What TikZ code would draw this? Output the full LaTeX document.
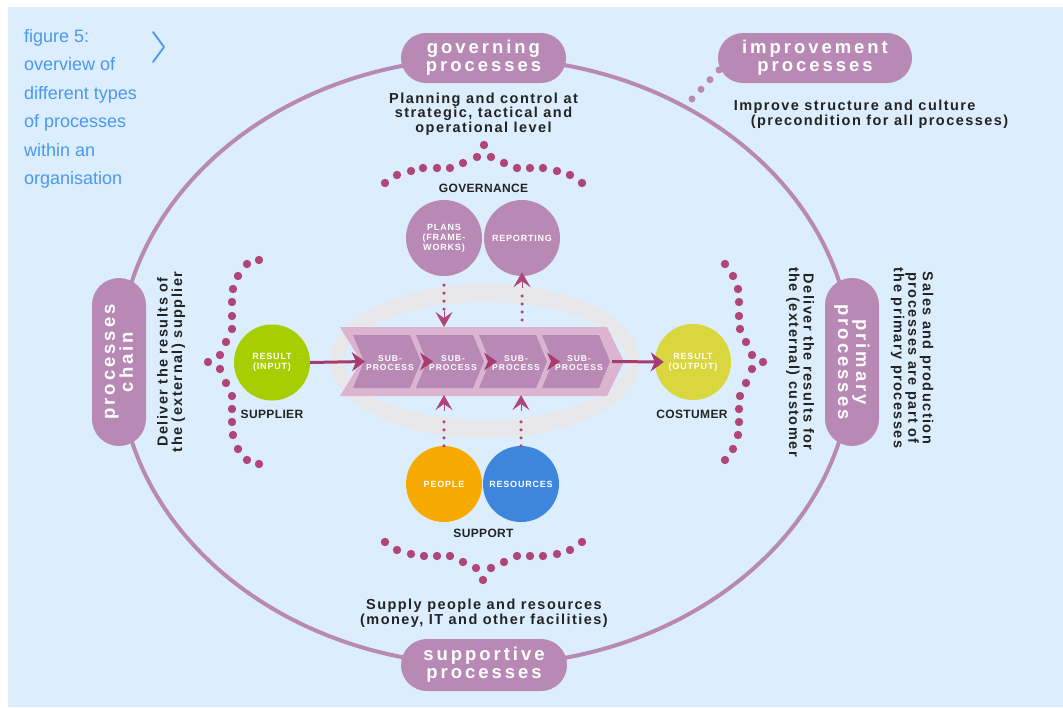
\documentclass[tikz,border=0pt]{standalone}
\usepackage{fontspec}
\setmainfont{Liberation Sans}
\newfontfamily\pillfont[LetterSpace=16]{Liberation Sans Bold}
\newfontfamily\bodyfont[LetterSpace=10]{Liberation Sans Bold}
\newfontfamily\smallfont[LetterSpace=9]{Liberation Sans Bold}
\newfontfamily\subfont[LetterSpace=12]{Liberation Sans Bold}
\newfontfamily\labelfont[LetterSpace=3]{Liberation Sans Bold}
\newfontfamily\capfont{Liberation Sans}
\usetikzlibrary{arrows.meta}
\definecolor{bgc}{RGB}{220,238,253}
\definecolor{pcol}{RGB}{184,137,180}
\definecolor{lpink}{RGB}{219,180,208}
\definecolor{ringc}{RGB}{232,232,234}
\definecolor{dcol}{RGB}{176,70,120}
\definecolor{acol}{RGB}{168,60,112}
\definecolor{gcol}{RGB}{166,206,0}
\definecolor{ycol}{RGB}{217,214,62}
\definecolor{ocol}{RGB}{246,170,0}
\definecolor{bcol}{RGB}{62,133,222}
\definecolor{capc}{RGB}{74,152,236}
\definecolor{tdark}{RGB}{35,35,35}
\tikzset{
 pill/.style={fill=pcol, text=white, align=center, inner sep=0pt, font=\pillfont\fontsize{18.5}{18}\selectfont},
 blob/.style={circle, fill=#1, minimum size=76pt, inner sep=0pt, text=white, align=center, font=\smallfont\fontsize{9}{10}\selectfont},
 body/.style={text=tdark, align=center, inner sep=0pt, font=\bodyfont\fontsize{14.5}{14.5}\selectfont},
 lbl/.style={text=tdark, inner sep=0pt, font=\labelfont\fontsize{12}{12}\selectfont},
 subtxt/.style={text=white, align=center, inner sep=0pt, font=\subfont\fontsize{8.5}{8.5}\selectfont},
 flow/.style={draw=acol, line width=3pt, -{Stealth[length=13pt,width=19pt,inset=4pt]}},
 dotline/.style={draw=dcol, line width=3.5pt, line cap=round, dash pattern=on 0pt off 8pt},
 vhead/.style={draw=dcol, fill=dcol, line width=1pt, -{Stealth[length=15pt,width=17pt,inset=6pt]}},
 bdot/.style={fill=dcol},
}
\begin{document}
\begin{tikzpicture}[x=1pt,y=-1pt]
\useasboundingbox (0,0) rectangle (1063,707);
\fill[white] (0,0) rectangle (1063,707);
\fill[bgc] (8,7) rectangle (1063,707);

% caption
\node[anchor=north west, inner sep=0pt, align=left, text=capc, font=\capfont\fontsize{18}{28.5}\selectfont] (cap) at (24,29)
 {figure 5:\\overview of\\different types\\of processes\\within an\\organisation};
\draw[capc, line width=1.8pt, line cap=round, line join=round] (153,32) -- (164,47) -- (153,62);

% big ellipse
\draw[pcol, line width=4pt] (485.5,361.5) ellipse [x radius=366.5pt, y radius=303.5pt];

% improvement dotted connector
\coordinate (id1) at (719,70);
\coordinate (id2) at (692,99);
\draw[pcol, line width=7pt, line cap=round, dash pattern=on 0pt off 13.2pt] (id1) -- (id2);

% pills
\node[pill, rounded corners=25pt, minimum width=165pt, minimum height=50pt] (gov) at (483.5,58) {governing\\processes};
\node[pill, rounded corners=25pt, minimum width=194pt, minimum height=50pt] (imp) at (815,58) {improvement\\processes};
\node[pill, rounded corners=26pt, minimum width=166pt, minimum height=52pt] (sup) at (484,665) {supportive\\processes};
\node[pill, rounded corners=27pt, rotate=90, minimum width=168pt, minimum height=54pt] (chain) at (119,362) {processes\\chain};
\node[pill, rounded corners=27pt, rotate=-90, minimum width=168pt, minimum height=54pt] (prim) at (852,362) {primary\\processes};

% descriptive texts
\node[body] (govtxt) at (483.5,114) {Planning and control at\\strategic, tactical and\\operational level};
\node[body, align=left] (imptxt) at (871,114) {Improve structure and culture\\\hspace*{17pt}(precondition for all processes)};
\node[body] (suptxt) at (484,613) {Supply people and resources\\(money, IT and other facilities)};
\node[body, rotate=90] (chaintxt) at (171,362) {Deliver the results of\\the (external) supplier};
\node[body, rotate=-90] (primtxt) at (800,362) {Deliver the results for\\the (external) customer};
\node[body, rotate=-90] (salestxt) at (912,358) {Sales and production\\processes are part of\\the primary processes};

% gray ring
\fill[ringc, even odd rule] (485,361) ellipse [x radius=155pt, y radius=77pt] (485,361) ellipse [x radius=141pt, y radius=59pt];

% chevron band
\fill[lpink] (340,327) -- (607,327) -- (624,361.5) -- (607,396) -- (340,396) -- (361,361.5) -- cycle;
\foreach \i/\x in {1/353,2/416,3/479,4/542}{
  \fill[pcol] (\x,335) -- (\x+57,335) -- (\x+68,361.5) -- (\x+57,388) -- (\x,388) -- (\x+11,361.5) -- cycle;
  \node[subtxt] (sp\i) at (\x+37,363) {SUB-\\PROCESS};
}
\foreach \x in {433,497,560}{
  \fill[acol] (\x,361.5) -- (\x-13,352.5) -- (\x-9,361.5) -- (\x-13,370.5) -- cycle;
}

% circles
\node[blob=gcol] (in) at (272,362.5) {RESULT\\(INPUT)};
\node[blob=ycol] (out) at (693,362) {RESULT\\(OUTPUT)};
\node[blob=pcol] (plans) at (444,238) {PLANS\\(FRAME-\\WORKS)};
\node[blob=pcol] (rep) at (522,238) {REPORTING};
\node[blob=ocol] (peo) at (444,484) {PEOPLE};
\node[blob=bcol] (res) at (521,484) {RESOURCES};

% labels
\node[lbl] (govl) at (483.5,188) {GOVERNANCE};
\node[lbl] (supl) at (483.5,533) {SUPPORT};
\node[lbl] (inl) at (272,414) {SUPPLIER};
\node[lbl] (outl) at (692,414) {COSTUMER};

% flow arrows
\coordinate (n1) at (365,361.5);
\coordinate (bt) at (612,361.5);
\draw[flow] (in.east) -- (n1);
\draw[flow] (bt) -- ([xshift=9pt]out.west);

% vertical dotted arrows
\coordinate (pl1) at (444,311);
\coordinate (pl2) at (444,327);
\draw[dotline] ([yshift=-9pt]plans.south) -- (pl1);
\draw[vhead] (pl1) -- (pl2);
\coordinate (rp1) at (522,320);
\coordinate (rp2) at (522,288);
\draw[dotline] (rp1) -- ([yshift=-4pt]rp2);
\draw[vhead] (rp2) -- ([yshift=4pt]rep.south);
\coordinate (pp1) at (444,411);
\coordinate (pp2) at (444,395);
\draw[dotline] (peo.north) -- ([yshift=-5pt]pp1);
\draw[vhead] (pp1) -- (pp2);
\coordinate (rs1) at (521,411);
\coordinate (rs2) at (521,395);
\draw[dotline] (res.north) -- ([yshift=-5pt]rs1);
\draw[vhead] (rs1) -- (rs2);

% braces of dots
\foreach \p in {(385,183),(397,175),(411,171),(423,168),(437,168),(450,168),(463,163),(477,157),(484,145),(491,157),(504,163),(517,168),(530,168),(543,168),(557,171),(570,175),(582,183)}
  \fill[bdot] \p circle (4.2pt);
\foreach \p in {(385,542),(397,550),(411,554),(424,556),(437,556),(450,556),(463,562),(476,568),(483,580),(491,568),(504,562),(517,556),(530,556),(543,556),(557,554),(570,550),(582,542)}
  \fill[bdot] \p circle (4.2pt);
\foreach \p in {(259,260),(247,264),(238,276),(233,289),(232,302),(232,316),(232,329),(226,342),(220,355),(208,362),(220,369),(226,383),(232,396),(232,409),(232,422),(233,435),(238,449),(247,460),(259,464)}
  \fill[bdot] \p circle (4.2pt);
\foreach \p in {(725,264),(733,276),(738,289),(739,302),(739,316),(740,329),(746,342),(752,355),(763,362),(752,369),(746,383),(740,396),(739,409),(739,422),(738,435),(733,449),(725,460)}
  \fill[bdot] \p circle (4.2pt);
\end{tikzpicture}
\end{document}
